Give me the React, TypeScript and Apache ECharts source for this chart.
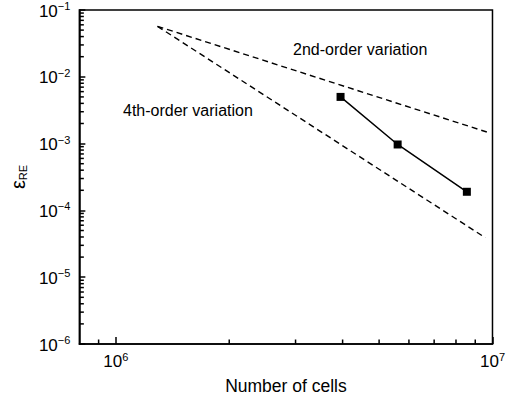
import React, { useEffect, useRef } from 'react';
import * as echarts from 'echarts';

// ---- data ----
const cells = [3.95e6, 5.6e6, 8.55e6];
const errorRE = [5.0e-3, 9.7e-4, 1.9e-4];

const secondOrderCells = [1.29e6, 9.66e6];
const secondOrderError = [5.7e-2, 1.49e-3];

const fourthOrderCells = [1.29e6, 9.57e6];
const fourthOrderError = [5.7e-2, 3.9e-5];

// ---- axis ticks ----
const xMajorTicks = [1e6, 1e7];
const xMinorTicks = [9e5, 2e6, 3e6, 4e6, 5e6, 6e6, 7e6, 8e6, 9e6];
const yMajorTicks = [1e-6, 1e-5, 1e-4, 1e-3, 1e-2, 1e-1];
const yMinorMultipliers = [2, 3, 4, 5, 6, 7, 8, 9];
const yMinorDecades = [1e-6, 1e-5, 1e-4, 1e-3, 1e-2];

const X_MIN = 8e5;
const X_MAX = 1e7;
const Y_MIN = 1e-6;
const Y_MAX = 1e-1;

const FONT = 'Arial, "Liberation Sans", sans-serif';

const expLabel = (v: number) => {
  const e = Math.round(Math.log10(v));
  const s = e < 0 ? '\u2212' + -e : String(e);
  return `{b|10}{s|${s}}`;
};

const labelRich = {
  b: { fontSize: 17, lineHeight: 19, verticalAlign: 'bottom', fontFamily: FONT, color: '#000' },
  s: { fontSize: 11, lineHeight: 11, verticalAlign: 'top', fontFamily: FONT, color: '#000' },
};

export default function App() {
  const ref = useRef<HTMLDivElement>(null);
  useEffect(() => {
    if (!ref.current) return;
    const chart = echarts.init(ref.current, undefined, { renderer: 'svg' });
    const yMinorTicks = yMinorDecades.flatMap((d) => yMinorMultipliers.map((m) => m * d));
    const pairs = (xs: number[], ys: number[]) => xs.map((x, i) => [x, ys[i]]);

    const tickSeries = (data: number[][], dx: number, dy: number) => ({
      type: 'custom',
      silent: true,
      z: 5,
      xAxisIndex: 0,
      yAxisIndex: 0,
      data,
      renderItem: (_params: any, api: any) => {
        const p = api.coord([api.value(0), api.value(1)]);
        return {
          type: 'line',
          shape: { x1: p[0], y1: p[1], x2: p[0] + dx, y2: p[1] + dy },
          style: { stroke: '#000', lineWidth: 1.5 },
        };
      },
    });

    chart.setOption({
      animation: false,
      backgroundColor: '#fff',
      grid: {
        left: 76, top: 10, right: 15, bottom: 54,
        show: true, borderColor: '#000', borderWidth: 1.5, backgroundColor: 'transparent',
      },
      xAxis: {
        type: 'log', logBase: 10, min: X_MIN, max: X_MAX, position: 'bottom',
        axisLine: { show: true, lineStyle: { color: '#000', width: 1.5 } },
        axisTick: { show: true, inside: true, length: 7, customValues: xMajorTicks, lineStyle: { color: '#000', width: 1.5 } },
        axisLabel: { show: true, customValues: xMajorTicks, margin: 7, formatter: expLabel, rich: labelRich },
        splitLine: { show: false },
        name: 'Number of cells', nameLocation: 'middle', nameGap: 33,
        nameTextStyle: { fontSize: 17.5, fontFamily: FONT, color: '#000' },
      },
      yAxis: {
        type: 'log', logBase: 10, min: Y_MIN, max: Y_MAX, position: 'left',
        axisLine: { show: true, lineStyle: { color: '#000', width: 1.5 } },
        axisTick: { show: true, inside: true, length: 6, customValues: yMajorTicks, lineStyle: { color: '#000', width: 1.5 } },
        axisLabel: { show: true, customValues: yMajorTicks, margin: 9, formatter: expLabel, rich: labelRich },
        splitLine: { show: false },
        name: '{e|\u03b5}{r|RE}', nameLocation: 'middle', nameGap: 44, nameRotate: 90,
        nameTextStyle: {
          rich: {
            e: { fontSize: 20, lineHeight: 20, verticalAlign: 'top', fontFamily: FONT, color: '#000' },
            r: { fontSize: 11, lineHeight: 8, verticalAlign: 'bottom', fontFamily: FONT, color: '#000' },
          },
        },
      },
      series: [
        tickSeries(xMinorTicks.map((v) => [v, Y_MIN]), 0, -4.5),
        tickSeries(yMinorTicks.map((v) => [X_MIN, v]), 4.5, 0),
        {
          name: '2nd-order variation', type: 'line',
          data: pairs(secondOrderCells, secondOrderError), symbol: 'none',
          lineStyle: { color: '#000', width: 1.4, type: [6, 4] },
        },
        {
          name: '4th-order variation', type: 'line',
          data: pairs(fourthOrderCells, fourthOrderError), symbol: 'none',
          lineStyle: { color: '#000', width: 1.4, type: [6, 4] },
        },
        {
          name: 'error', type: 'line',
          data: pairs(cells, errorRE), symbol: 'rect', symbolSize: 8,
          itemStyle: { color: '#000' },
          lineStyle: { color: '#000', width: 1.5 },
        },
      ],
      graphic: [
        {
          type: 'text', x: 293, y: 49,
          style: { text: '2nd-order variation', fontSize: 16, fontFamily: FONT, fill: '#000', verticalAlign: 'middle' },
        },
        {
          type: 'text', x: 123, y: 110,
          style: { text: '4th-order variation', fontSize: 16, fontFamily: FONT, fill: '#000', verticalAlign: 'middle' },
        },
      ],
    });
    return () => chart.dispose();
  }, []);
  return <div ref={ref} style={{ position: 'fixed', left: 0, top: 0, width: 508, height: 400 }} />;
}
